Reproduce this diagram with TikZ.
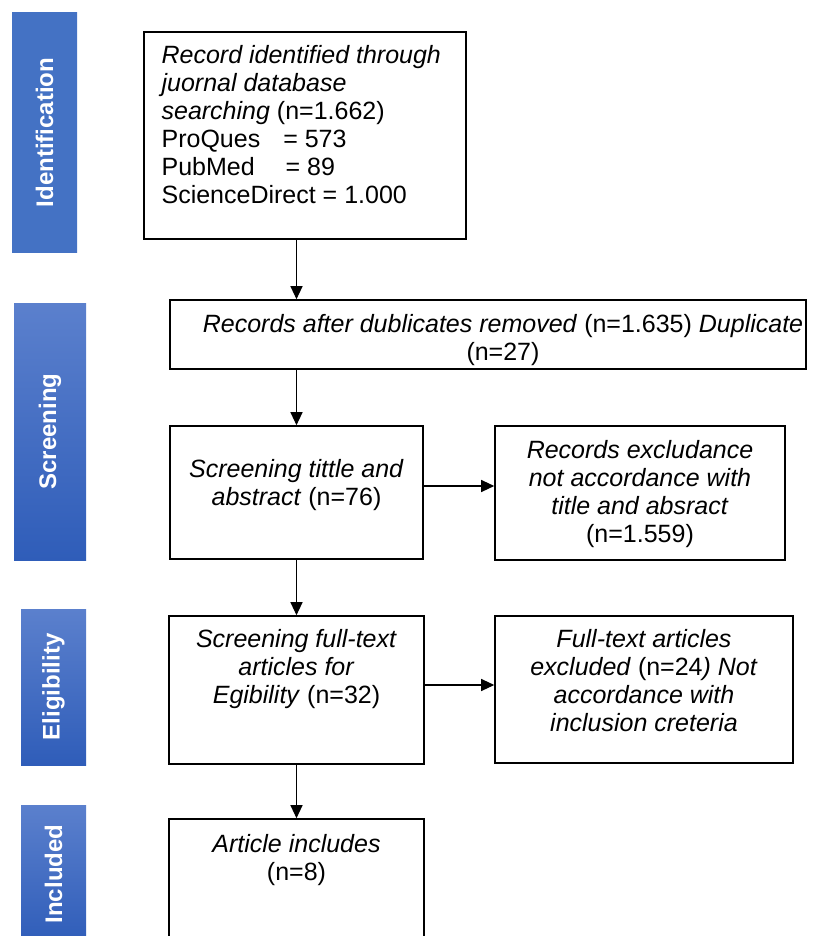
\documentclass[tikz,border=0pt]{standalone}
\usepackage{fontspec}
\setmainfont{Liberation Sans}
\usetikzlibrary{arrows.meta, positioning}
\definecolor{barblue}{HTML}{4472C4}
\definecolor{bartop}{HTML}{5B80CD}
\definecolor{barbot}{HTML}{2F5DB9}

\begin{document}
\begin{tikzpicture}[x=0.5pt, y=-0.5pt,
    box/.style={draw, line width=0.8pt, inner sep=0pt},
    txt/.style={inner sep=0pt, align=center, font=\fontsize{12.5pt}{14pt}\selectfont},
    bar/.style={inner sep=0pt, top color=bartop, bottom color=barbot, text=white, font=\fontsize{12pt}{14pt}\selectfont\bfseries},
    arr/.style={line width=0.6pt, -{Triangle[length=6.5pt, width=6pt]}}]
  \useasboundingbox (0,0) rectangle (824,936);
  \clip (0,0) rectangle (824,936);

  \node [bar, minimum width=32.5pt, minimum height=119.5pt, top color=barblue, bottom color=barblue] (idbar) at (44.5,132.5) {\rotatebox{90}{Identification}};
  \node [bar, minimum width=36pt, minimum height=128.5pt] (scrbar) at (50,431.5) {\rotatebox{90}{Screening}};
  \node [bar, minimum width=32.5pt, minimum height=78pt] (eligbar) at (53.5,687) {\rotatebox{90}{Eligibility}};
  \node [bar, minimum width=32.5pt, minimum height=69pt] (inclbar) at (53.5,874) {\rotatebox{90}{Included}};

  \node [box, minimum width=161pt, minimum height=103.5pt] (ident) at (305,135.5) {};
  \node [box, minimum width=318pt, minimum height=34.5pt] (dupl) at (488,334.5) {};
  \node [box, minimum width=126.5pt, minimum height=66.5pt] (screen) at (296.5,492.5) {};
  \node [box, minimum width=145pt, minimum height=67pt] (screenx) at (640,493) {};
  \node [box, minimum width=127.5pt, minimum height=74pt] (full) at (296.5,690) {};
  \node [box, minimum width=149pt, minimum height=73.5pt] (fullx) at (644,689.5) {};
  \node [box, minimum width=127.5pt, minimum height=70.5pt] (incl) at (296.5,889.5) {};

  \node [txt, align=left, below right=6.8pt and 9pt of ident.north west] (identtxt)
    {\textit{Record identified through}\\ \textit{juornal database}\\ \textit{searching} (n=1.662)\\
     ProQues\hspace{11.5pt}= 573\\ PubMed\hspace{15.5pt}= 89\\ ScienceDirect = 1.000};
  \node [txt, below=7.3pt of dupl.north, xshift=7.5pt] (dupltxt)
    {\textit{Records after dublicates removed} (n=1.635) \textit{Duplicate}\\ (n=27)};
  \node [txt, below=16.8pt of screen.north] (screentxt)
    {\textit{Screening tittle and}\\ \textit{abstract} (n=76)};
  \node [txt, below=7.3pt of screenx.north] (screenxtxt)
    {\textit{Records excludance}\\ \textit{not accordance with}\\ \textit{title and absract}\\ (n=1.559)};
  \node [txt, below=6.8pt of full.north] (fulltxt)
    {\textit{Screening full-text}\\ \textit{articles for}\\ \textit{Egibility} (n=32)};
  \node [txt, below=6.8pt of fullx.north] (fullxtxt)
    {\textit{Full-text articles}\\ \textit{excluded} (n=24\textit{) Not}\\ \textit{accordance with}\\ \textit{inclusion creteria}};
  \node [txt, below=7.8pt of incl.north] (incltxt)
    {\textit{Article includes}\\ (n=8)};

  \draw [arr] (ident.south -| screen.north) -- (dupl.north -| screen.north);
  \draw [arr] (dupl.south -| screen.north) -- (screen.north);
  \draw [arr] ([yshift=3.25pt]screen.east) -- ([yshift=3.25pt]screen.east -| screenx.west);
  \draw [arr] (screen.south) -- (full.north);
  \draw [arr] ([yshift=2.5pt]full.east) -- ([yshift=2.5pt]full.east -| fullx.west);
  \draw [arr] (full.south) -- (incl.north);
\end{tikzpicture}
\end{document}
